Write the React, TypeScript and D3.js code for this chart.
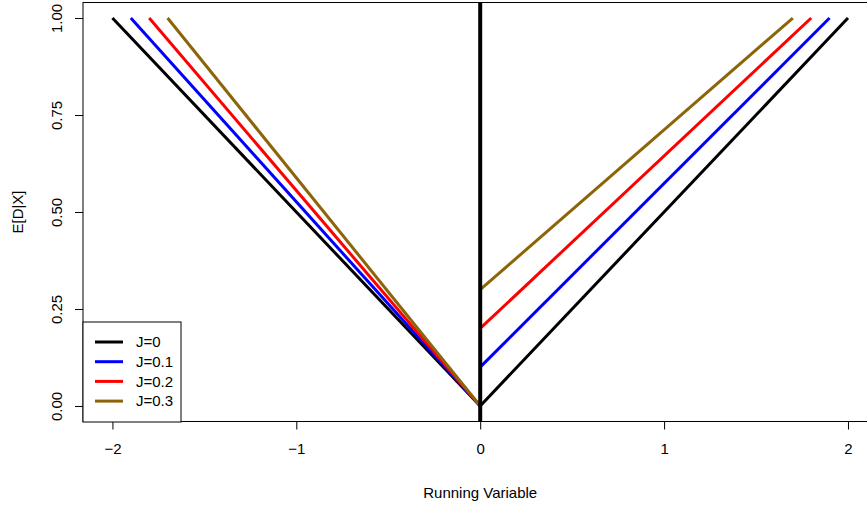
import * as d3 from 'd3';
import { useEffect, useRef } from 'react';

const jumps = [0, 0.1, 0.2, 0.3];
const labels = ['J=0', 'J=0.1', 'J=0.2', 'J=0.3'];
const colors = ['#000000', '#0000ff', '#ff0000', '#8b6508'];
const xTicks = [-2, -1, 0, 1, 2];
const yTicks = [0, 0.25, 0.5, 0.75, 1];
// left branch: from (-2 + J, 1) to (0, 0); right branch: from (0, J) to (2 - J, 1)
const leftStarts = [-2, -1.9, -1.8, -1.7];
const rightEnds = [2, 1.9, 1.8, 1.7];

const App = () => {
    const svgRef = useRef<SVGSVGElement>(null);

    useEffect(() => {
        const width = 867;
        const height = 506;
        const svg = d3.select(svgRef.current);
        svg.selectAll('*').remove();
        svg.attr('width', width).attr('height', height);

        const x = d3.scaleLinear().domain([-2.16, 2.16]).range([83, 877.4]);
        const y = d3.scaleLinear().domain([-0.04, 1.04]).range([421.5, 2.5]);
        const font = 'Liberation Sans, Arial, sans-serif';
        const fs = '15px';

        const line = d3
            .line<[number, number]>()
            .x((d) => x(d[0]))
            .y((d) => y(d[1]));

        const g = svg.append('g');

        jumps.forEach((j, i) => {
            g.append('path')
                .attr('d', line([[leftStarts[i], 1], [0, 0]]))
                .attr('stroke', colors[i])
                .attr('stroke-width', 3)
                .attr('fill', 'none');
        });
        jumps.forEach((j, i) => {
            g.append('path')
                .attr('d', line([[0, j], [rightEnds[i], 1]]))
                .attr('stroke', colors[i])
                .attr('stroke-width', 3)
                .attr('fill', 'none');
        });

        // vertical cutoff line
        g.append('line')
            .attr('x1', x(0))
            .attr('x2', x(0))
            .attr('y1', y(-0.04))
            .attr('y2', y(1.04))
            .attr('stroke', '#000')
            .attr('stroke-width', 4);

        // box
        svg.append('rect')
            .attr('x', x(-2.16))
            .attr('y', y(1.04))
            .attr('width', x(2.16) - x(-2.16))
            .attr('height', y(-0.04) - y(1.04))
            .attr('fill', 'none')
            .attr('stroke', '#000')
            .attr('stroke-width', 1);

        // x axis
        const xAxis = svg
            .append('g')
            .attr('transform', `translate(0, ${y(-0.04)})`)
            .call(d3.axisBottom(x).tickValues(xTicks).tickSize(8).tickPadding(14).tickFormat((d) => {
                const v = d as number;
                return v < 0 ? `\u2212${Math.abs(v)}` : `${v}`;
            }));
        xAxis.select('.domain').remove();
        xAxis.selectAll('text').style('font-family', font).style('font-size', fs).attr('fill', '#000');

        // y axis
        const yAxis = svg
            .append('g')
            .attr('transform', `translate(${x(-2.16)}, 0)`)
            .call(d3.axisLeft(y).tickValues(yTicks).tickSize(8).tickFormat(d3.format('.2f')));
        yAxis.select('.domain').remove();
        yAxis
            .selectAll('text')
            .attr('transform', 'rotate(-90)')
            .attr('x', 0)
            .attr('y', -21)
            .attr('dy', 0)
            .style('text-anchor', 'middle')
            .style('font-family', font)
            .style('font-size', fs)
            .attr('fill', '#000');

        // titles
        svg.append('text')
            .attr('x', x(0))
            .attr('y', 498)
            .attr('text-anchor', 'middle')
            .style('font-family', font)
            .style('font-size', fs)
            .text('Running Variable');
        svg.append('text')
            .attr('transform', `translate(23, ${y(0.5)}) rotate(-90)`)
            .attr('text-anchor', 'middle')
            .style('font-family', font)
            .style('font-size', fs)
            .text('E[D|X]');

        // legend
        const legend = svg.append('g').attr('transform', 'translate(83, 322)');
        legend.append('rect')
            .attr('width', 98)
            .attr('height', 100)
            .attr('fill', '#fff')
            .attr('stroke', '#000')
            .attr('stroke-width', 1);
        labels.forEach((label, i) => {
            const row = legend.append('g').attr('transform', `translate(0, ${20 + i * 19.7})`);
            row.append('line')
                .attr('x1', 12)
                .attr('x2', 40)
                .attr('stroke', colors[i])
                .attr('stroke-width', 3);
            row.append('text')
                .attr('x', 53)
                .attr('dy', '0.35em')
                .style('font-family', font)
                .style('font-size', fs)
                .text(label);
        });
    }, []);

    return <svg ref={svgRef} style={{ position: 'absolute', left: 0, top: 0 }} />;
};

export default App;
